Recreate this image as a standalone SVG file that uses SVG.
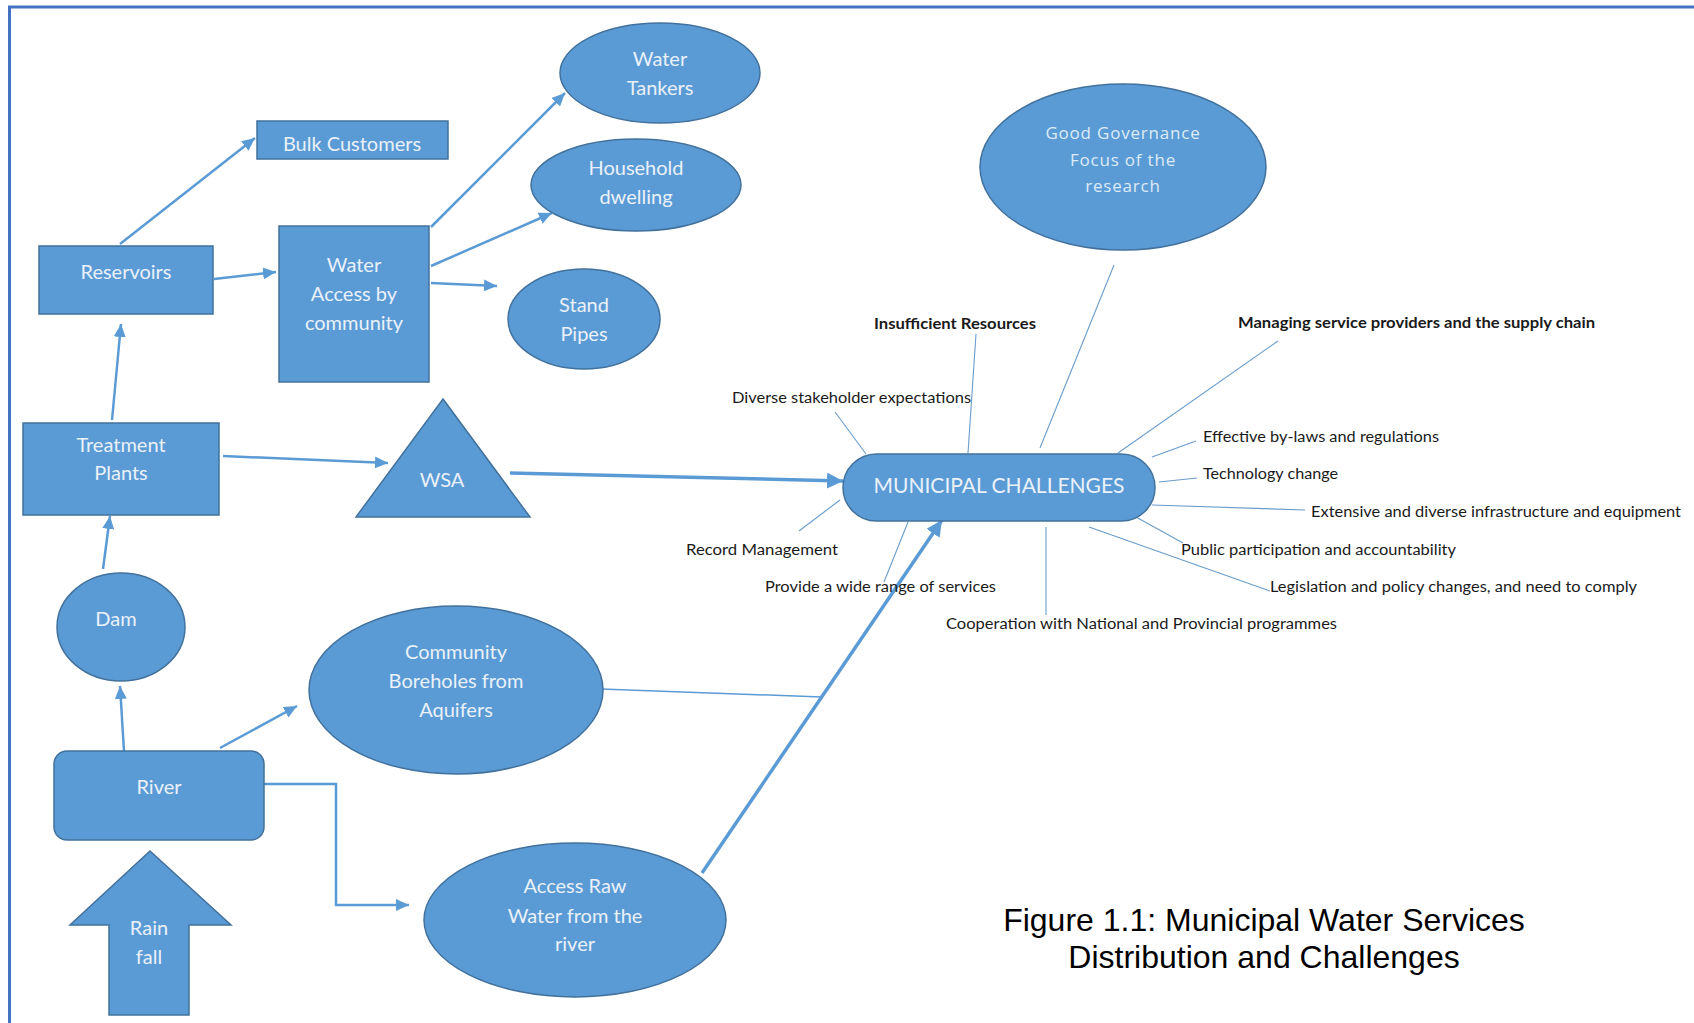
<svg xmlns="http://www.w3.org/2000/svg" width="1694" height="1023" viewBox="0 0 1694 1023">
<style>
.n{fill:#5B9BD5;stroke:#41719C;stroke-width:1.5}
.t{font-family:Lato,"Open Sans","Liberation Sans",sans-serif;font-size:20px;fill:#EAF1F9;text-anchor:middle}
.g{font-family:"Open Sans","DejaVu Sans",sans-serif;font-size:17px;fill:#DDEBF7;text-anchor:middle;letter-spacing:0.8px}
.c{stroke:#5B9BD5;stroke-width:2.5;fill:none}
.ct{stroke:#5B9BD5;stroke-width:3.5;fill:none}
.l{stroke:#6A9CCB;stroke-width:1.1;fill:none}
.lb{font-family:Lato,"Liberation Sans",sans-serif;font-size:14.5px;fill:#1a1a1a}
.bd{font-weight:bold}
.cap{font-family:"Liberation Sans",Arial,sans-serif;font-size:32px;fill:#000;text-anchor:middle}
</style>
<defs>
<marker id="a" markerUnits="userSpaceOnUse" markerWidth="13" markerHeight="12" refX="13" refY="6" orient="auto"><path d="M0,0 L13,6 L0,12 z" fill="#5B9BD5"/></marker>
<marker id="b" markerUnits="userSpaceOnUse" markerWidth="16" markerHeight="16" refX="16" refY="8" orient="auto"><path d="M0,0 L16,8 L0,16 z" fill="#5B9BD5"/></marker>
</defs>
<rect x="0" y="0" width="1694" height="1023" fill="#fff"/>
<rect x="9.5" y="7" width="1720" height="1060" fill="none" stroke="#4472C4" stroke-width="3"/>

<g id="connectors">
<line class="c" x1="120" y1="244" x2="255" y2="138" marker-end="url(#a)"/>
<line class="c" x1="214" y1="279" x2="276" y2="272" marker-end="url(#a)"/>
<line class="c" x1="431" y1="227" x2="565" y2="93" marker-end="url(#a)"/>
<line class="c" x1="431" y1="266" x2="552" y2="213" marker-end="url(#a)"/>
<line class="c" x1="431" y1="283" x2="497" y2="286" marker-end="url(#a)"/>
<line class="c" x1="112" y1="420" x2="121" y2="324" marker-end="url(#a)"/>
<line class="c" x1="103" y1="569" x2="110" y2="516" marker-end="url(#a)"/>
<line class="c" x1="124" y1="751" x2="120" y2="686" marker-end="url(#a)"/>
<line class="c" x1="220" y1="748" x2="297" y2="706" marker-end="url(#a)"/>
<polyline class="c" points="264,784 336,784 336,905 409,905" marker-end="url(#a)"/>
<line class="c" x1="223" y1="456" x2="388" y2="463" marker-end="url(#a)"/>
<line class="ct" x1="510" y1="473" x2="843" y2="481" marker-end="url(#b)"/>
<line class="ct" x1="702" y1="873" x2="942" y2="520" marker-end="url(#b)"/>
<line class="l" x1="601" y1="689" x2="822" y2="697" style="stroke:#5B9BD5;stroke-width:1.5"/>
<line class="l" x1="1114" y1="265" x2="1040" y2="448"/>
<line class="l" x1="976" y1="334" x2="968" y2="453"/>
<line class="l" x1="1278" y1="341" x2="1118" y2="453"/>
<line class="l" x1="835" y1="412" x2="866" y2="454"/>
<line class="l" x1="1196" y1="441" x2="1152" y2="457"/>
<line class="l" x1="1197" y1="478" x2="1159" y2="482"/>
<line class="l" x1="1305" y1="510" x2="1152" y2="505"/>
<line class="l" x1="1183" y1="543" x2="1136" y2="517"/>
<line class="l" x1="1270" y1="591" x2="1089" y2="527"/>
<line class="l" x1="1046" y1="615" x2="1046" y2="527"/>
<line class="l" x1="908" y1="522" x2="884" y2="582"/>
<line class="l" x1="840" y1="500" x2="799" y2="531"/>
</g>

<g id="water-tankers"><ellipse class="n" cx="660" cy="73" rx="100" ry="50"/><text class="t" x="660" y="66">Water</text><text class="t" x="660" y="95">Tankers</text></g>
<g id="household"><ellipse class="n" cx="636" cy="185" rx="105" ry="46"/><text class="t" x="636" y="175">Household</text><text class="t" x="636" y="204">dwelling</text></g>
<g id="stand-pipes"><ellipse class="n" cx="584" cy="319" rx="76" ry="50"/><text class="t" x="584" y="312">Stand</text><text class="t" x="584" y="341">Pipes</text></g>
<g id="bulk-customers"><rect class="n" x="257" y="121" width="191" height="38"/><text class="t" x="352" y="151">Bulk Customers</text></g>
<g id="reservoirs"><rect class="n" x="39" y="246" width="174" height="68"/><text class="t" x="126" y="279">Reservoirs</text></g>
<g id="water-access"><rect class="n" x="279" y="226" width="150" height="156"/><text class="t" x="354" y="272">Water</text><text class="t" x="354" y="301">Access by</text><text class="t" x="354" y="330">community</text></g>
<g id="treatment-plants"><rect class="n" x="23" y="423" width="196" height="92"/><text class="t" x="121" y="452">Treatment</text><text class="t" x="121" y="480">Plants</text></g>
<g id="wsa"><polygon class="n" points="443,399 530,517 356,517"/><text class="t" x="442" y="487">WSA</text></g>
<g id="dam"><ellipse class="n" cx="121" cy="627" rx="64" ry="54"/><text class="t" x="116" y="626">Dam</text></g>
<g id="boreholes"><ellipse class="n" cx="456" cy="690" rx="147" ry="84"/><text class="t" x="456" y="659">Community</text><text class="t" x="456" y="688">Boreholes from</text><text class="t" x="456" y="717">Aquifers</text></g>
<g id="river"><rect class="n" x="54" y="751" width="210" height="89" rx="13"/><text class="t" x="159" y="794">River</text></g>
<g id="rainfall"><polygon class="n" points="150,851 231,925 189,925 189,1015 109,1015 109,925 70,925"/><text class="t" x="149" y="935">Rain</text><text class="t" x="149" y="964">fall</text></g>
<g id="access-raw"><ellipse class="n" cx="575" cy="920" rx="151" ry="77"/><text class="t" x="575" y="893">Access Raw</text><text class="t" x="575" y="923">Water from the</text><text class="t" x="575" y="951">river</text></g>
<g id="municipal-challenges"><rect class="n" x="843" y="454" width="312" height="67" rx="33.5"/><text class="t" x="999" y="493" style="font-size:21px">MUNICIPAL CHALLENGES</text></g>
<g id="good-governance"><ellipse class="n" cx="1123" cy="167" rx="143" ry="83"/><text class="g" x="1123" y="139">Good Governance</text><text class="g" x="1123" y="166">Focus of the</text><text class="g" x="1123" y="192">research</text></g>

<g id="labels">
<text class="lb bd" x="874" y="329" textLength="162" lengthAdjust="spacingAndGlyphs">Insufficient Resources</text>
<text class="lb bd" x="1238" y="328" textLength="357" lengthAdjust="spacingAndGlyphs">Managing service providers and the supply chain</text>
<text class="lb" x="732" y="403" textLength="239" lengthAdjust="spacingAndGlyphs">Diverse stakeholder expectations</text>
<text class="lb" x="1203" y="442" textLength="236" lengthAdjust="spacingAndGlyphs">Effective by-laws and regulations</text>
<text class="lb" x="1203" y="479" textLength="135" lengthAdjust="spacingAndGlyphs">Technology change</text>
<text class="lb" x="1311" y="517" textLength="370" lengthAdjust="spacingAndGlyphs">Extensive and diverse infrastructure and equipment</text>
<text class="lb" x="686" y="555" textLength="152" lengthAdjust="spacingAndGlyphs">Record Management</text>
<text class="lb" x="1181" y="555" textLength="275" lengthAdjust="spacingAndGlyphs">Public participation and accountability</text>
<text class="lb" x="765" y="592" textLength="231" lengthAdjust="spacingAndGlyphs">Provide a wide range of services</text>
<text class="lb" x="1270" y="592" textLength="367" lengthAdjust="spacingAndGlyphs">Legislation and policy changes, and need to comply</text>
<text class="lb" x="946" y="629" textLength="391" lengthAdjust="spacingAndGlyphs">Cooperation with National and Provincial programmes</text>
</g>

<g id="caption">
<text class="cap" x="1264" y="931">Figure 1.1: Municipal Water Services</text>
<text class="cap" x="1264" y="968">Distribution and Challenges</text>
</g>
</svg>
